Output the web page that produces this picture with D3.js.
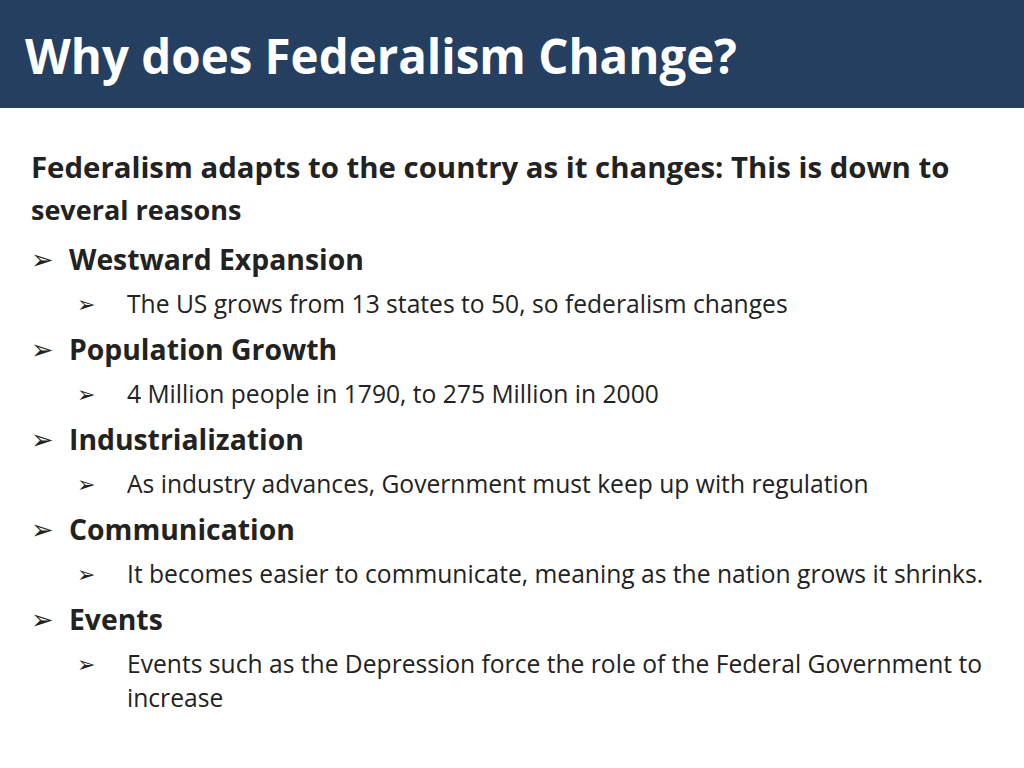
<!DOCTYPE html>
<html><head><meta charset="utf-8">
<script src="https://cdn.jsdelivr.net/npm/d3@7"></script>
<style>body{margin:0;background:#fff}</style></head>
<body><svg id="s" width="1024" height="768"></svg>
<script>
const title = "Why does Federalism Change?";
const introLines = ["Federalism adapts to the country as it changes: This is down to", "several reasons"];
const headings = ["Westward Expansion", "Population Growth", "Industrialization", "Communication", "Events"];
const details = [
  ["The US grows from 13 states to 50, so federalism changes"],
  ["4 Million people in 1790, to 275 Million in 2000"],
  ["As industry advances, Government must keep up with regulation"],
  ["It becomes easier to communicate, meaning as the nation grows it shrinks."],
  ["Events such as the Depression force the role of the Federal Government to", "increase"]
];
const svg = d3.select("#s");
const F = "'Open Sans', sans-serif";
function fit(sel, w){ const n=sel.node(); const L=n.getComputedTextLength(); if(w && L>0) sel.attr("font-size", parseFloat(sel.attr("font-size"))*w/L); return sel; }
svg.append("rect").attr("width",1024).attr("height",108).attr("fill","#243f60");
fit(svg.append("text").attr("x",25).attr("y",74).text(title)
  .attr("font-family",F).attr("font-weight","bold").attr("font-size",44).attr("fill","#fff"),712);
introLines.forEach((t,i)=>{ const s=svg.append("text").attr("x",31).attr("y",178+i*42).text(t)
  .attr("font-family",F).attr("font-weight","bold").attr("font-size",27).attr("fill","#222");
  if(i===0) fit(s,919); });
const y = d3.scaleLinear().domain([0,1]).range([270,360]);
headings.forEach((h,i)=>{
  const yy=y(i);
  svg.append("text").attr("x",31).attr("y",yy-1).text("\u27A2").attr("font-family","DejaVu Sans").attr("font-size",27).attr("fill","#222");
  const hs=svg.append("text").attr("x",69).attr("y",yy).text(h).attr("font-family",F).attr("font-weight","bold").attr("font-size",27).attr("fill","#222");
  if(i===0) fit(hs,295);
  details[i].forEach((d,j)=>{
    const sy=yy+43+j*34;
    if(j===0) svg.append("text").attr("x",77).attr("y",sy-1).text("\u27A2").attr("font-family","DejaVu Sans").attr("font-size",22).attr("fill","#222");
    const s=svg.append("text").attr("x",127).attr("y",sy).text(d).attr("font-family",F).attr("font-size",22.5).attr("fill","#222");
    if(i===0) fit(s,661);
  });
});
// unify sizes to the fitted references
const hSize=svg.selectAll("text").filter(function(){return this.textContent==="Westward Expansion";}).attr("font-size");
svg.selectAll("text").filter(function(){return headings.includes(this.textContent);}).attr("font-size",hSize);
const dSize=svg.selectAll("text").filter(function(){return this.textContent===details[0][0];}).attr("font-size");
svg.selectAll("text").filter(function(){return details.flat().includes(this.textContent);}).attr("font-size",dSize);
</script></body></html>
